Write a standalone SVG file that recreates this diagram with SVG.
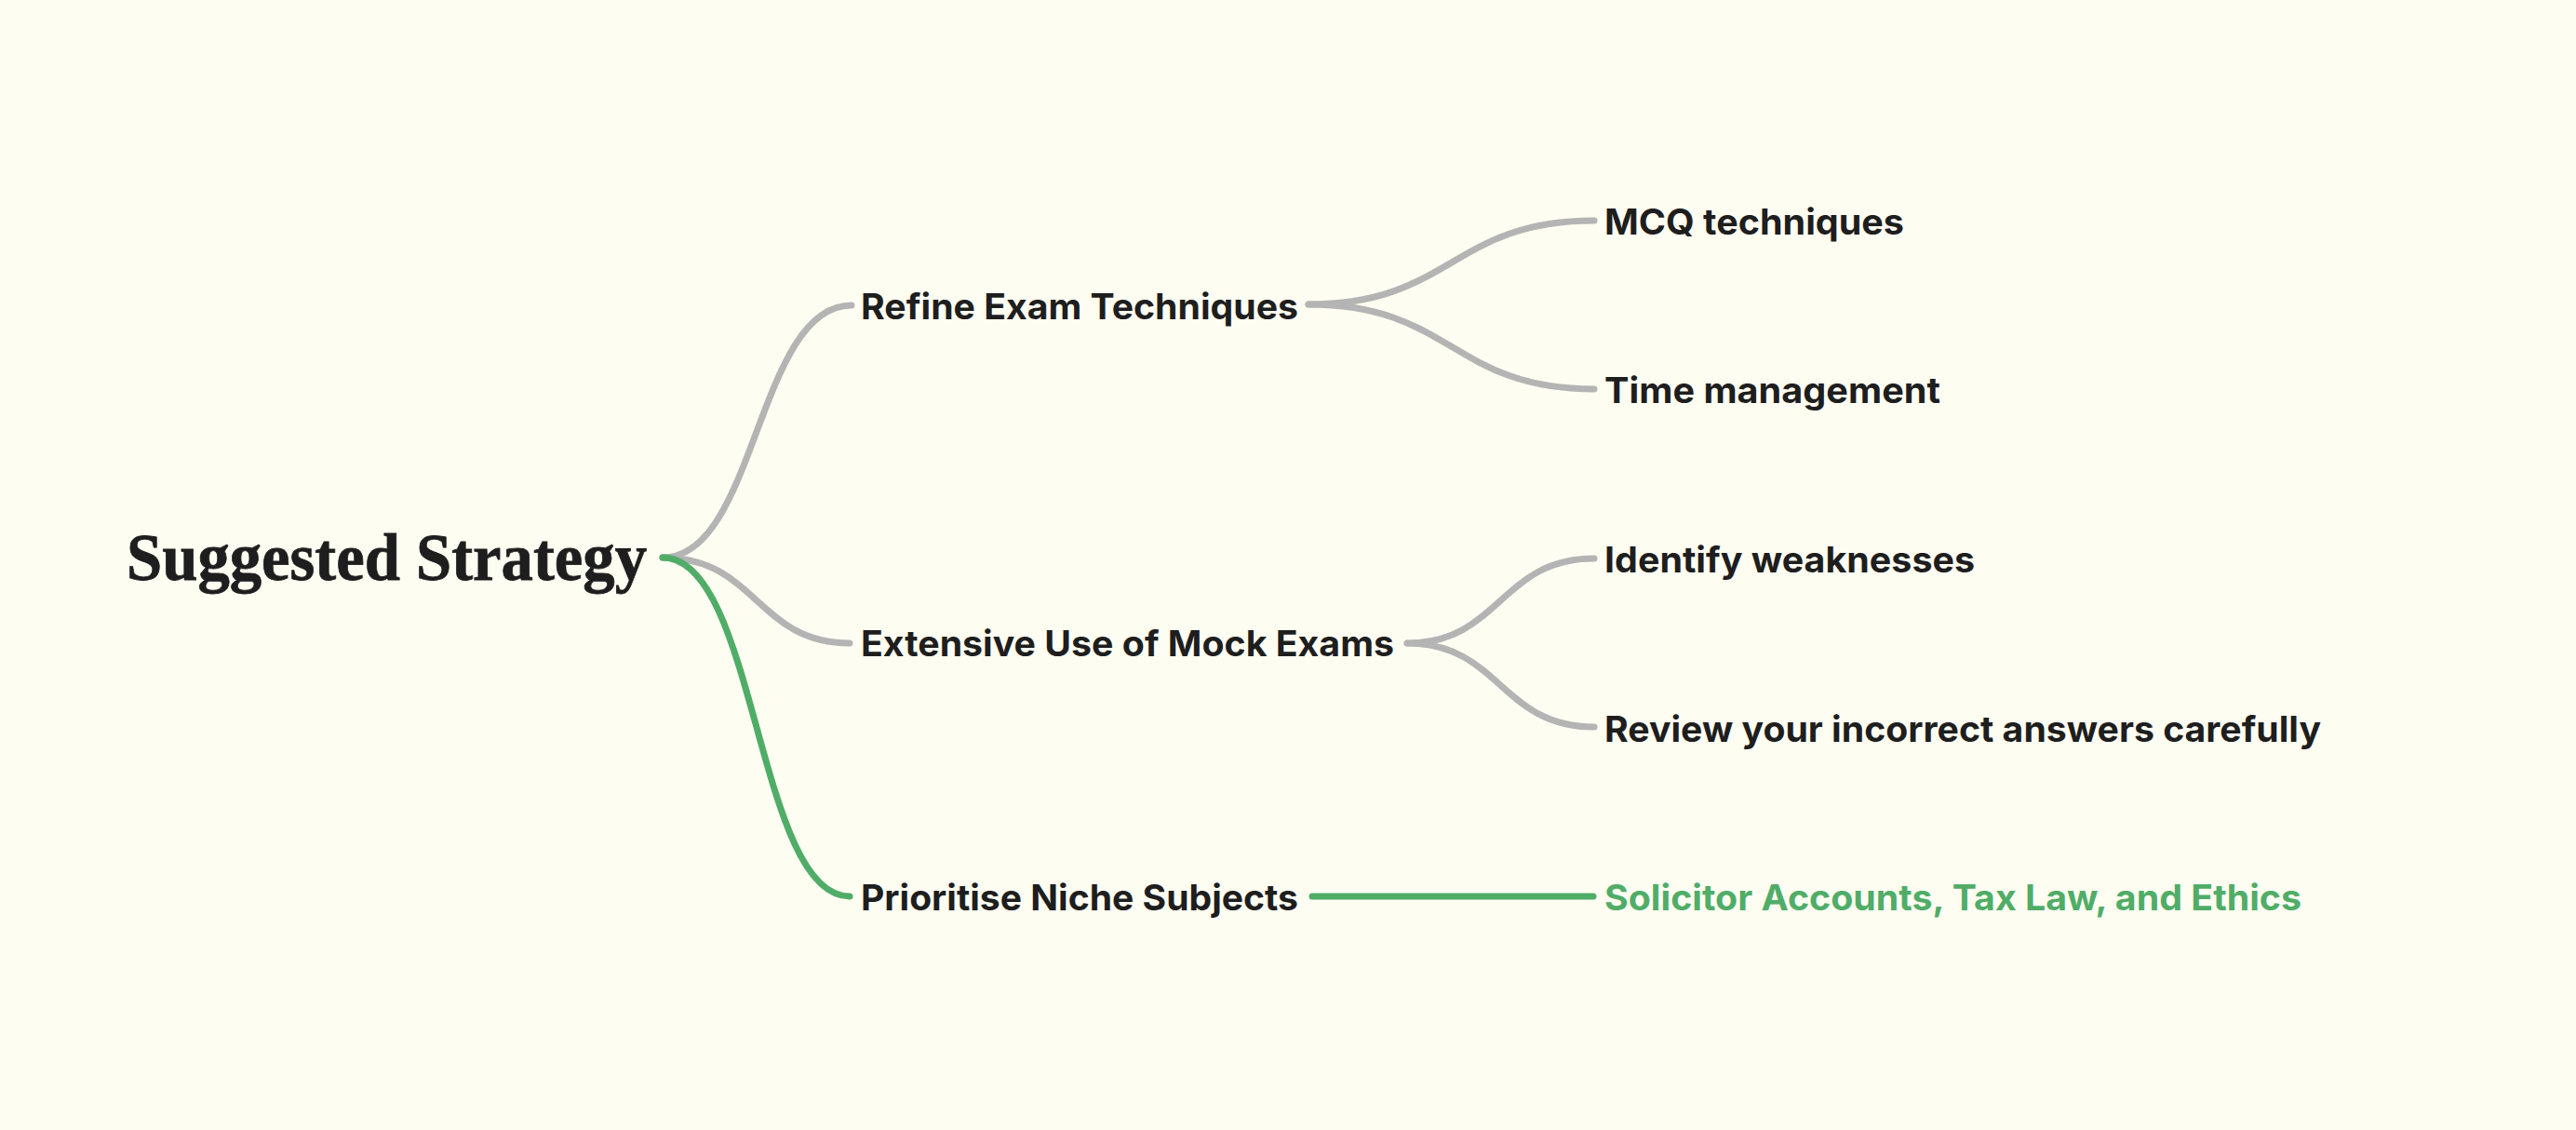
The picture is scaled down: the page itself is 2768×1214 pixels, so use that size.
<svg xmlns="http://www.w3.org/2000/svg" width="2768" height="1214" viewBox="0 0 2768 1214">
  <style>
    .edge { fill: none; stroke: #B4B4B4; stroke-width: 7; stroke-linecap: round; }
    .edge.hl { stroke: #50AD68; }
    .root { font-family: "Liberation Serif", "DejaVu Serif", serif; font-weight: 700; font-size: 71px; fill: #1E1E1E; stroke: #1E1E1E; stroke-width: 0.8; }
    .lbl { font-family: Inter, "Liberation Sans", sans-serif; font-weight: 700; font-size: 38px; fill: #1E1E1E; }
    .lbl.hl { fill: #50AD68; }
  </style>
  <rect width="2768" height="1214" fill="#FEFDF2"/>
  <g id="connectors">
    <path class="edge" d="M712,599 C813,599 813,328 915,328"/>
    <path class="edge" d="M712,599 C813,599 813,691 913,691"/>
    <path class="edge" d="M1406,327 C1560,327 1560,237 1713,237"/>
    <path class="edge" d="M1406,327 C1560,327 1560,418 1713,418"/>
    <path class="edge" d="M1512,691 C1612,691 1612,600 1713,600"/>
    <path class="edge" d="M1512,691 C1612,691 1612,781 1713,781"/>
    <path class="edge hl" d="M712,599 C813,599 813,963 913,963"/>
    <path class="edge hl" d="M1410,963 L1712,963"/>
  </g>
  <g id="node-root"><text class="root" x="136" y="623" textLength="559" lengthAdjust="spacingAndGlyphs">Suggested Strategy</text></g>
  <g id="node-refine"><text class="lbl" x="925" y="343" textLength="470" lengthAdjust="spacingAndGlyphs">Refine Exam Techniques</text></g>
  <g id="node-mcq"><text class="lbl" x="1724" y="252" textLength="322" lengthAdjust="spacingAndGlyphs">MCQ techniques</text></g>
  <g id="node-time"><text class="lbl" x="1724" y="433" textLength="361" lengthAdjust="spacingAndGlyphs">Time management</text></g>
  <g id="node-mock"><text class="lbl" x="925" y="705" textLength="573" lengthAdjust="spacingAndGlyphs">Extensive Use of Mock Exams</text></g>
  <g id="node-identify"><text class="lbl" x="1724" y="615" textLength="398" lengthAdjust="spacingAndGlyphs">Identify weaknesses</text></g>
  <g id="node-review"><text class="lbl" x="1724" y="797" textLength="770" lengthAdjust="spacingAndGlyphs">Review your incorrect answers carefully</text></g>
  <g id="node-niche"><text class="lbl" x="925" y="978" textLength="470" lengthAdjust="spacingAndGlyphs">Prioritise Niche Subjects</text></g>
  <g id="node-solicitor"><text class="lbl hl" x="1724" y="978" textLength="749" lengthAdjust="spacingAndGlyphs">Solicitor Accounts, Tax Law, and Ethics</text></g>
</svg>
